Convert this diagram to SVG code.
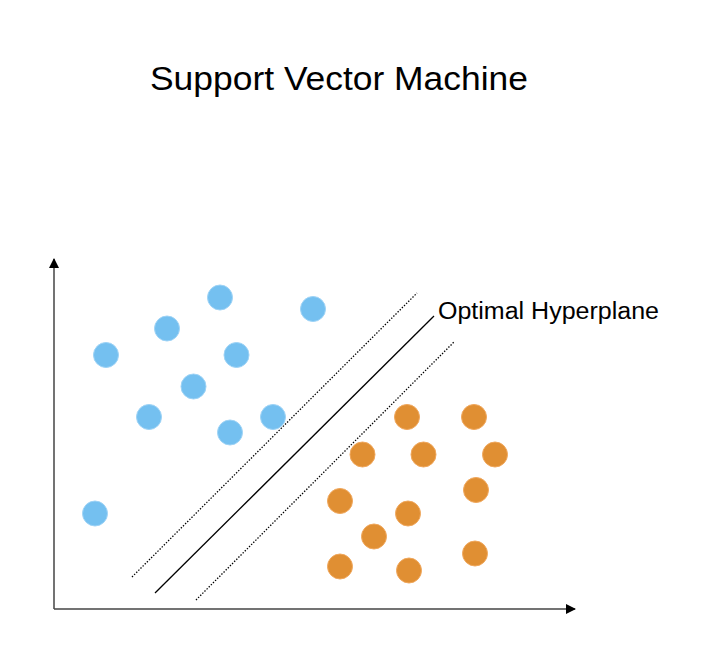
<svg xmlns="http://www.w3.org/2000/svg" width="715" height="664" viewBox="0 0 715 664">
<defs>
<style>
.t{font-family:"Liberation Sans",Arial,sans-serif;fill:#000}
.b{fill:#74C0F0;stroke:#9ED3F6;stroke-width:1}
.o{fill:#E08F33;stroke:#F0A75C;stroke-width:1}
.ax{stroke:#444;stroke-width:1.5;fill:none}
.dot{stroke:#000;stroke-width:1.3;stroke-dasharray:1.4 1.6;fill:none}
.sol{stroke:#000;stroke-width:1.3;fill:none}
</style>
<marker id="ah" viewBox="0 0 10 10" refX="9" refY="5" markerWidth="11" markerHeight="10" markerUnits="userSpaceOnUse" orient="auto">
<path d="M0,0 L10,5 L0,10 Z" fill="#000"/>
</marker>
</defs>
<rect width="715" height="664" fill="#fff"/>
<g id="title"><text class="t" x="150" y="90" font-size="33" textLength="378" lengthAdjust="spacingAndGlyphs">Support Vector Machine</text></g>
<g id="axes">
<line class="ax" x1="54" y1="609" x2="54" y2="259" marker-end="url(#ah)"/>
<line class="ax" x1="54" y1="609" x2="575" y2="609" marker-end="url(#ah)"/>
</g>
<g id="connectors">
<line class="dot" x1="132" y1="577" x2="417" y2="293"/>
<line class="sol" x1="155" y1="593" x2="434" y2="316"/>
<line class="dot" x1="196" y1="600" x2="454" y2="342"/>
</g>
<g id="label"><text class="t" x="438" y="319" font-size="23" textLength="221" lengthAdjust="spacingAndGlyphs">Optimal Hyperplane</text></g>
<g id="blue">
<circle class="b" cx="220" cy="297.5" r="12.5"/>
<circle class="b" cx="313" cy="309" r="12.5"/>
<circle class="b" cx="167" cy="328.5" r="12.5"/>
<circle class="b" cx="106" cy="355" r="12.5"/>
<circle class="b" cx="236.5" cy="355" r="12.5"/>
<circle class="b" cx="193.5" cy="386.5" r="12.5"/>
<circle class="b" cx="149" cy="417" r="12.5"/>
<circle class="b" cx="273" cy="417" r="12.5"/>
<circle class="b" cx="230" cy="432.5" r="12.5"/>
<circle class="b" cx="95" cy="513.5" r="12.5"/>
</g>
<g id="orange">
<circle class="o" cx="407" cy="417" r="12.5"/>
<circle class="o" cx="474" cy="417" r="12.5"/>
<circle class="o" cx="362.5" cy="454.5" r="12.5"/>
<circle class="o" cx="423.5" cy="454.5" r="12.5"/>
<circle class="o" cx="495" cy="454.5" r="12.5"/>
<circle class="o" cx="476" cy="490" r="12.5"/>
<circle class="o" cx="340" cy="501" r="12.5"/>
<circle class="o" cx="408" cy="513.5" r="12.5"/>
<circle class="o" cx="374" cy="536.5" r="12.5"/>
<circle class="o" cx="340" cy="566.5" r="12.5"/>
<circle class="o" cx="409" cy="570.5" r="12.5"/>
<circle class="o" cx="475" cy="553.5" r="12.5"/>
</g>
</svg>
